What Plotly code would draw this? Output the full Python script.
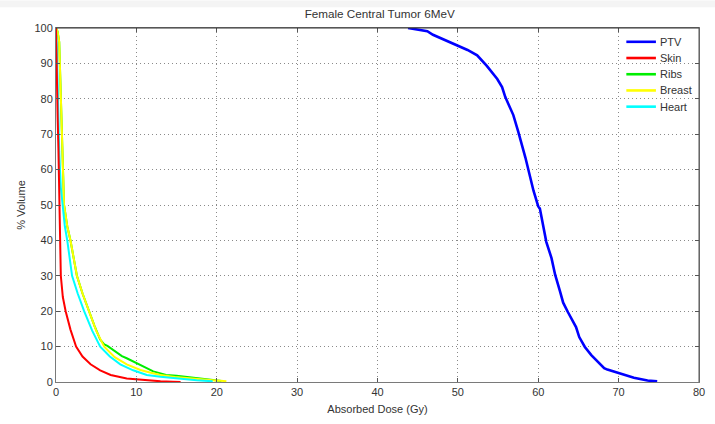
import plotly.graph_objects as go

# Cumulative dose-volume histograms: dose (Gy) vs % volume
ptv_dose = [43.8, 46.2, 46.9, 47.5, 48.9, 49.9, 51.2, 52.4, 53.6, 54.9, 55.5, 55.9, 56.9, 57.5,
            58.4, 59.4, 60.0, 60.2, 60.6, 61.0, 61.65, 62.1, 62.7, 63.1, 63.7, 64.3, 64.7, 65.1,
            65.8, 66.6, 67.4, 68.2, 68.6, 69.9, 71.1, 71.9, 73.6, 74.8]
ptv_vol = [100.0, 99.1, 98.1, 97.5, 96.3, 95.3, 93.8, 92.3, 89.3, 85.6, 83.3, 80.5, 75.4, 70.8,
           63.4, 54.1, 49.6, 49.0, 44.2, 39.6, 35.0, 30.3, 25.7, 22.4, 19.7, 17.3, 15.5, 12.7,
           9.9, 7.6, 5.8, 3.9, 3.5, 2.6, 1.6, 1.2, 0.4, 0.2]

skin_dose = [0.0, 0.05, 0.1, 0.2, 0.3, 0.35, 0.4, 0.5, 0.6, 0.85, 1.2, 1.8, 2.5, 3.3, 4.3, 5.5,
             6.8, 8.8, 11.0, 13.0, 14.5, 15.5]
skin_vol = [100.0, 90.0, 85.0, 75.0, 66.0, 60.0, 50.0, 40.0, 30.0, 24.0, 20.0, 14.8, 10.0, 7.2,
            5.0, 3.3, 2.0, 1.0, 0.5, 0.2, 0.1, 0.0]

ribs_dose = [0.0, 0.2, 0.4, 0.6, 0.8, 1.0, 1.4, 1.8, 2.2, 2.6, 3.3, 4.1, 4.8, 5.5, 6.0, 6.4,
             7.0, 7.6, 8.2, 8.8, 9.6, 10.5, 11.3, 12.1, 12.9, 13.7, 15.0, 16.2, 17.5, 18.7,
             19.5, 20.3, 20.6]
ribs_vol = [100.0, 99.0, 96.0, 80.0, 68.0, 50.0, 44.0, 40.0, 35.0, 30.0, 25.0, 20.0, 15.8, 12.0,
            10.6, 10.2, 9.2, 8.1, 7.3, 6.7, 5.8, 4.8, 3.8, 3.0, 2.5, 2.0, 1.8, 1.5, 1.2, 0.9,
            0.7, 0.55, 0.3]

breast_dose = [0.0, 0.2, 0.4, 0.6, 0.8, 1.0, 1.4, 1.8, 2.2, 2.6, 3.3, 4.1, 5.0, 6.0, 7.3, 8.8,
               10.5, 11.8, 13.0, 14.8, 16.5, 18.0, 19.5, 20.5, 21.2]
breast_vol = [100.0, 99.0, 96.0, 80.0, 68.0, 50.0, 44.0, 40.0, 35.0, 30.0, 25.0, 20.0, 14.5, 10.0,
              7.0, 5.0, 3.4, 2.6, 2.0, 1.4, 1.0, 0.75, 0.5, 0.35, 0.2]

heart_dose = [0.0, 0.1, 0.25, 0.4, 0.6, 0.8, 1.1, 1.4, 1.7, 2.0, 2.7, 3.5, 4.5, 5.5, 6.7, 8.0,
              9.6, 11.3, 13.0, 15.0, 17.5, 19.5]
heart_vol = [100.0, 95.0, 80.0, 65.0, 55.0, 50.0, 44.0, 40.0, 35.0, 30.0, 25.0, 20.0, 14.5, 10.0,
             7.2, 5.0, 3.3, 2.0, 1.5, 1.0, 0.5, 0.2]

x_ticks = [0, 10, 20, 30, 40, 50, 60, 70, 80]
y_ticks = [0, 10, 20, 30, 40, 50, 60, 70, 80, 90, 100]

series = [
    ("PTV", ptv_dose, ptv_vol, "#0000ff", 2.6),
    ("Skin", skin_dose, skin_vol, "#ff0000", 2.0),
    ("Ribs", ribs_dose, ribs_vol, "#00ee00", 2.0),
    ("Breast", breast_dose, breast_vol, "#ffff00", 2.0),
    ("Heart", heart_dose, heart_vol, "#00ffff", 2.0),
]

FONT = "Liberation Sans, Arial, sans-serif"
TEXT_COLOR = "#333333"

fig = go.Figure()
# stacking order of the curves (last drawn sits on top)
draw_order = ["Ribs", "Breast", "Heart", "Skin", "PTV"]
lookup = {s[0]: s for s in series}
for name in draw_order:
    n, xs, ys, col, w = lookup[name]
    fig.add_trace(go.Scatter(x=xs, y=ys, mode="lines", name=n, showlegend=False,
                             line=dict(color=col, width=w)))

# compact legend in the upper-right corner of the axes
shapes = []
annotations = []
leg_top, leg_step = 0.961, 0.0458
for i, (n, _, _, col, w) in enumerate(series):
    yy = leg_top - i * leg_step
    shapes.append(dict(type="line", xref="paper", yref="paper", x0=0.887, x1=0.933,
                       y0=yy, y1=yy, line=dict(color=col, width=2.6)))
    annotations.append(dict(xref="paper", yref="paper", x=0.937, y=yy, xanchor="left",
                            yanchor="middle", text=n, showarrow=False,
                            font=dict(family=FONT, size=11, color=TEXT_COLOR)))

# darker frame on the top and right sides of the axes box
shapes.append(dict(type="line", xref="paper", yref="paper", x0=0, x1=1, y0=1, y1=1,
                   line=dict(color="#333333", width=1)))
shapes.append(dict(type="line", xref="paper", yref="paper", x0=1, x1=1, y0=0, y1=1,
                   line=dict(color="#555555", width=1)))

# light strip along the top edge of the figure
shapes.append(dict(type="rect", xref="paper", yref="paper", x0=-0.2, x1=1.1,
                   y0=1 + 21 / 359, y1=1 + 28 / 359, fillcolor="#f4f4f4",
                   line=dict(width=0), layer="below"))

axis_common = dict(
    showline=True, linecolor="#7a7a7a", linewidth=1, mirror="ticks",
    ticks="inside", ticklen=4, tickcolor="#555555",
    showgrid=True, gridcolor="#8a8a8a", griddash="1px,3px", gridwidth=1,
    zeroline=False, tickfont=dict(family=FONT, size=11, color=TEXT_COLOR),
)

fig.update_xaxes(range=[0, 80], tickvals=x_ticks, ticktext=[str(v) for v in x_ticks],
                 title=dict(text="Absorbed Dose (Gy)", standoff=8,
                            font=dict(family=FONT, size=11, color=TEXT_COLOR)),
                 **axis_common)
fig.update_yaxes(range=[0, 100], tickvals=y_ticks, ticktext=[str(v) for v in y_ticks],
                 title=dict(text="% Volume", standoff=6,
                            font=dict(family=FONT, size=11, color=TEXT_COLOR)),
                 **axis_common)

fig.update_layout(
    width=715, height=424,
    margin=dict(l=56, r=10, t=28, b=37),
    paper_bgcolor="white", plot_bgcolor="white",
    title=dict(text="Female Central Tumor 6MeV", x=0.531, xanchor="center",
               y=1 - 14 / 424, yanchor="middle",
               font=dict(family=FONT, size=11.7, color=TEXT_COLOR)),
    showlegend=False,
    shapes=shapes,
    annotations=annotations,
)

fig.write_html("out.html")
